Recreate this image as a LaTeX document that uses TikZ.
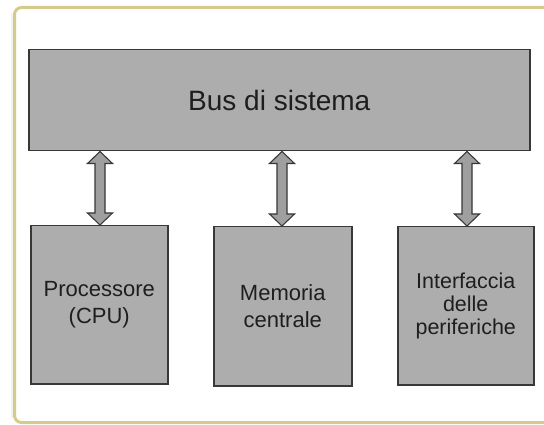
\documentclass[tikz,border=0pt]{standalone}
\usepackage{fontspec}
\setmainfont{Liberation Sans}
\usetikzlibrary{calc}
\definecolor{framecol}{HTML}{D5CB8C}
\definecolor{boxfill}{HTML}{ADADAD}
\definecolor{boxline}{HTML}{383838}
\definecolor{txt}{HTML}{1E1E1E}
\tikzset{
  unitbox/.style={draw=boxline, fill=boxfill, line width=1.5pt, inner sep=0pt,
    anchor=north west, text=txt, align=center},
  bustext/.style={font=\fontsize{28}{32}\selectfont},
  smalltext/.style={font=\fontsize{22}{27}\selectfont},
  tighttext/.style={font=\fontsize{21.5}{23}\selectfont},
  barrow/.style={draw=boxline, fill=boxfill!92!black, line width=1.1pt, line join=miter},
  frame/.style={draw=framecol, line width=3pt, rounded corners=7pt}
}
\newcommand\busarrow[2]{%
  \draw[barrow] let \p1=(#1), \p2=(#2) in
    (\x1,\y1) -- (\x1+12.5pt,\y1-12pt) -- (\x1+5pt,\y1-12pt) -- (\x1+5pt,\y2+12pt)
    -- (\x1+12.5pt,\y2+12pt) -- (\x1,\y2) -- (\x1-12.5pt,\y2+12pt) -- (\x1-5pt,\y2+12pt)
    -- (\x1-5pt,\y1-12pt) -- (\x1-12.5pt,\y1-12pt) -- cycle;}
\begin{document}
\begin{tikzpicture}[x=1pt,y=-1pt]
\useasboundingbox (0,0) rectangle (544,425);
\fill[white] (0,0) rectangle (544,425);
\draw[black!6, line width=2pt] (12,14) -- (12,418);
\draw[frame] (14.5,7.5) rectangle (570,422.5);
\node[unitbox, bustext, minimum width=501pt, minimum height=101pt] (bus) at (28,49) {Bus di sistema};
\node[unitbox, smalltext, minimum width=137pt, minimum height=158pt] (cpu) at (30,225) {Processore\\(CPU)};
\node[unitbox, smalltext, minimum width=138pt, minimum height=159pt] (mem) at (213,226) {Memoria\\centrale};
\node[unitbox, tighttext, minimum width=136pt, minimum height=158pt] (io) at (397,226) {Interfaccia\\delle\\periferiche};
\coordinate (x1) at (100,0);
\coordinate (x2) at (282,0);
\coordinate (x3) at (467,0);
\coordinate (t1) at (bus.south -| x1); \coordinate (b1) at (cpu.north -| x1);
\coordinate (t2) at (bus.south -| x2); \coordinate (b2) at (mem.north -| x2);
\coordinate (t3) at (bus.south -| x3); \coordinate (b3) at (io.north -| x3);
\busarrow{t1}{b1}
\busarrow{t2}{b2}
\busarrow{t3}{b3}
\end{tikzpicture}
\end{document}
